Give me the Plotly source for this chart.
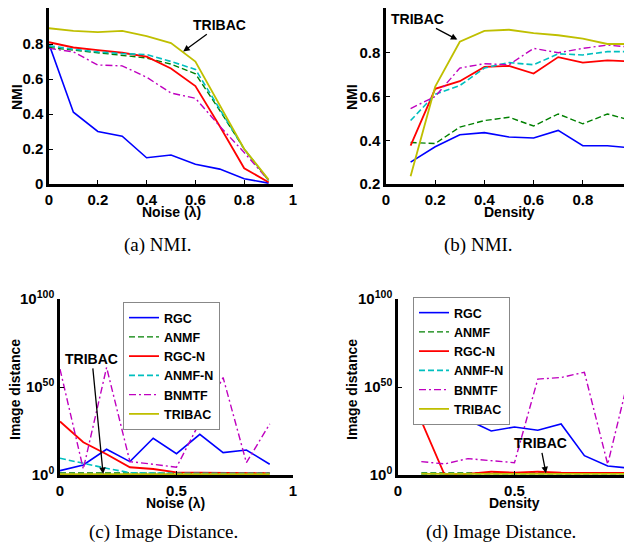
import plotly.graph_objects as go

# ---------------- data ----------------
noise = [0.0, 0.1, 0.2, 0.3, 0.4, 0.5, 0.6, 0.7, 0.8, 0.9]
density = [0.1, 0.2, 0.3, 0.4, 0.5, 0.6, 0.7, 0.8, 0.9, 1.0]
methods = ["RGC", "ANMF", "RGC-N", "ANMF-N", "BNMTF", "TRIBAC"]

# (a) NMI vs noise
a_rgc = [0.80, 0.41, 0.30, 0.273, 0.15, 0.166, 0.113, 0.085, 0.03, 0.005]
a_anmf = [0.78, 0.765, 0.748, 0.735, 0.72, 0.685, 0.63, 0.42, 0.20, 0.02]
a_rgcn = [0.81, 0.78, 0.765, 0.75, 0.728, 0.66, 0.56, 0.33, 0.09, 0.01]
a_anmfn = [0.79, 0.77, 0.755, 0.745, 0.74, 0.70, 0.655, 0.43, 0.20, 0.02]
a_bnmtf = [0.775, 0.755, 0.68, 0.675, 0.61, 0.52, 0.49, 0.33, 0.18, 0.02]
a_tribac = [0.89, 0.875, 0.868, 0.875, 0.845, 0.805, 0.70, 0.45, 0.20, 0.025]

# (b) NMI vs density
b_rgc = [0.30, 0.37, 0.425, 0.435, 0.415, 0.41, 0.445, 0.375, 0.375, 0.365]
b_anmf = [0.39, 0.385, 0.46, 0.49, 0.505, 0.465, 0.52, 0.475, 0.52, 0.49]
b_rgcn = [0.375, 0.635, 0.67, 0.735, 0.74, 0.705, 0.78, 0.755, 0.765, 0.76]
b_anmfn = [0.49, 0.61, 0.65, 0.73, 0.755, 0.745, 0.795, 0.79, 0.805, 0.805]
b_bnmtf = [0.545, 0.60, 0.73, 0.75, 0.745, 0.82, 0.80, 0.82, 0.835, 0.825]
b_tribac = [0.235, 0.645, 0.85, 0.90, 0.905, 0.89, 0.88, 0.865, 0.84, 0.84]

# (c) image distance vs noise, given as log10 of the distance
c_rgc = [2.5, 5.7, 14.6, 7.6, 20.9, 12.1, 23.1, 12.7, 14.2, 6.1]
c_anmf = [1.2, 1.1, 1.0, 1.0, 1.0, 1.0, 1.0, 1.0, 1.0, 1.0]
c_rgcn = [30.4, 18.6, 11.8, 4.4, 3.4, 1.5, 1.3, 1.1, 1.0, 1.0]
c_anmfn = [9.5, 6.6, 3.8, 1.3, 1.0, 0.9, 0.9, 0.9, 0.9, 0.9]
c_bnmtf = [60.2, 3.4, 61.1, 7.6, 6.1, 4.4, 30.0, 55.4, 7.0, 29.0]
c_tribac = [0.5, 0.5, 0.5, 0.5, 0.5, 0.5, 0.5, 0.5, 0.5, 0.5]

# (d) image distance vs density, given as log10 of the distance
d_rgc = [30.7, 31.3, 31.3, 25.0, 27.3, 25.4, 29.0, 11.0, 5.1, 3.8]
d_anmf = [1.2, 1.2, 1.2, 1.2, 1.2, 1.2, 1.2, 1.2, 1.2, 1.2]
d_rgcn = [30.7, 0.1, 0.6, 1.9, 1.3, 1.9, 1.3, 1.2, 1.2, 1.2]
d_anmfn = [0.1, 0.6, 0.6, 0.6, 0.6, 0.6, 0.6, 0.6, 0.6, 0.6]
d_bnmtf = [7.6, 6.3, 9.3, 8.0, 7.0, 54.5, 55.4, 58.4, 6.1, 60.7]
d_tribac = [0.6, 0.6, 0.6, 0.6, 0.6, 0.6, 0.6, 0.6, 0.6, 0.6]

nmi_ticks = [0, 0.2, 0.4, 0.6, 0.8, 1]
nmi_tick_labels = ["0", "0.2", "0.4", "0.6", "0.8", "1"]
nmi_b_ticks = [0.2, 0.4, 0.6, 0.8, 1]
nmi_b_tick_labels = ["0.2", "0.4", "0.6", "0.8", "1"]
dist_ticks = [1e0, 1e50, 1e100]
dist_tick_labels = ["10<sup>0</sup>", "10<sup>50</sup>", "10<sup>100</sup>"]
half_ticks = [0, 0.5, 1]
half_tick_labels = ["0", "0.5", "1"]

# ---------------- styles ----------------
colors = ["#0000ff", "#008000", "#ff0000", "#00bfbf", "#bf00bf", "#bfbf00"]
dashes = ["solid", "6px,3px", "solid", "6px,3px", "7px,3px,2px,3px", "solid"]
widths = [1.6, 1.4, 1.8, 1.6, 1.4, 1.8]

W, H = 632, 548
OFF = 8  # the page body adds an 8px margin; place everything relative to the window

def fx(x):
    return min(1.0, max(0.0, (x - OFF) / W))
def fy(y):
    return min(1.0, max(0.0, 1 - (y - OFF) / H))
def px(x0, x1):
    return [fx(x0), fx(x1)]
def py(top, bottom):
    return [fy(bottom), fy(top)]

fig = go.Figure()

panels = [
    ("x", "y", noise, [a_rgc, a_anmf, a_rgcn, a_anmfn, a_bnmtf, a_tribac], False, None),
    ("x2", "y2", density, [b_rgc, b_anmf, b_rgcn, b_anmfn, b_bnmtf, b_tribac], False, None),
    ("x3", "y3", noise, [c_rgc, c_anmf, c_rgcn, c_anmfn, c_bnmtf, c_tribac], True, "legend"),
    ("x4", "y4", density, [d_rgc, d_anmf, d_rgcn, d_anmfn, d_bnmtf, d_tribac], True, "legend2"),
]
for xa, ya, xs, series, is_log, leg in panels:
    for i, (name, vals) in enumerate(zip(methods, series)):
        yv = [10 ** v for v in vals] if is_log else vals
        fig.add_trace(go.Scatter(
            x=xs, y=yv, mode="lines", name=name, xaxis=xa, yaxis=ya,
            line=dict(color=colors[i], dash=dashes[i], width=widths[i]),
            showlegend=leg is not None, legend=leg if leg else "legend",
        ))

tickfont = dict(family="Liberation Sans", size=15, color="black", weight="bold")
common = dict(showgrid=False, zeroline=False, showline=True, linecolor="black",
              linewidth=2.5, ticks="inside", ticklen=4, tickcolor="black",
              tickfont=tickfont, mirror=False, automargin=False)

legfont = dict(family="Liberation Sans", size=12.5, color="black", weight="bold")
fig.update_layout(
    width=W, height=H, margin=dict(l=0, r=0, t=0, b=0, pad=0, autoexpand=False),
    paper_bgcolor="white", plot_bgcolor="white",
    # top panels start at the window's top edge (8px); range tops extended by ~1px worth
    xaxis=dict(domain=px(49, 293), range=[0, 1], tickvals=nmi_ticks, ticktext=nmi_tick_labels, anchor="y", **common),
    yaxis=dict(domain=py(8, 184), range=[0, 1.0057], tickvals=nmi_ticks, ticktext=nmi_tick_labels, anchor="x", **common),
    xaxis2=dict(domain=px(386, 632), range=[0, 1], tickvals=nmi_ticks, ticktext=nmi_tick_labels, anchor="y2", **common),
    yaxis2=dict(domain=py(8, 184), range=[0.2, 1.0045], tickvals=nmi_b_ticks, ticktext=nmi_b_tick_labels, anchor="x2", **common),
    xaxis3=dict(domain=px(60, 293), range=[0, 1], tickvals=half_ticks, ticktext=half_tick_labels, anchor="y3", **common),
    yaxis3=dict(domain=py(299, 475), type="log", range=[0, 100], tickvals=dist_ticks, ticktext=dist_tick_labels, anchor="x3", **common),
    xaxis4=dict(domain=px(398, 631), range=[0, 1], tickvals=half_ticks, ticktext=half_tick_labels, anchor="y4", **common),
    yaxis4=dict(domain=py(299, 475), type="log", range=[0, 100], tickvals=dist_ticks, ticktext=dist_tick_labels, anchor="x4", **common),
    legend=dict(x=fx(123), y=fy(302), xanchor="left", yanchor="top",
                bgcolor="white", bordercolor="#888888", borderwidth=1,
                font=legfont, itemwidth=30, tracegroupgap=0),
    legend2=dict(x=fx(413), y=fy(297), xanchor="left", yanchor="top",
                 bgcolor="white", bordercolor="#888888", borderwidth=1,
                 font=legfont, itemwidth=30, tracegroupgap=0),
)

labfont = dict(family="Liberation Sans", size=14, color="black", weight="bold")
capfont = dict(family="Liberation Serif", size=19, color="black")
annots = [
    # axis titles
    dict(text="Noise (λ)", x=171, y=212, font=labfont),
    dict(text="Density", x=509, y=212, font=labfont),
    dict(text="Noise (λ)", x=176, y=503, font=labfont),
    dict(text="Density", x=515, y=503, font=labfont),
    dict(text="NMI", x=17, y=97, font=labfont, textangle=-90),
    dict(text="NMI", x=352, y=97, font=labfont, textangle=-90),
    dict(text="Image distance", x=15, y=390, font=labfont, textangle=-90),
    dict(text="Image distance", x=352, y=390, font=labfont, textangle=-90),
    # captions
    dict(text="(a) NMI.", x=158, y=245, font=capfont),
    dict(text="(b) NMI.", x=478, y=245, font=capfont),
    dict(text="(c) Image Distance.", x=163, y=532, font=capfont),
    dict(text="(d) Image Distance.", x=501, y=532, font=capfont),
]
for a in annots:
    a = dict(a)
    a["x"] = fx(a["x"])
    a["y"] = fy(a["y"])
    fig.add_annotation(xref="paper", yref="paper", showarrow=False,
                       xanchor="center", yanchor="middle", **a)

arrowfont = dict(family="Liberation Sans", size=14, color="black", weight="bold")
fig.add_annotation(xref="x", yref="y", x=0.55, y=0.757, ax=0.70, ay=0.91,
                   axref="x", ayref="y", text="TRIBAC", font=arrowfont,
                   showarrow=True, arrowhead=2, arrowsize=1, arrowwidth=1.3, arrowcolor="black")
fig.add_annotation(xref="x2", yref="y2", x=0.29, y=0.86, ax=0.13, ay=0.955,
                   axref="x2", ayref="y2", text="TRIBAC", font=arrowfont,
                   showarrow=True, arrowhead=2, arrowsize=1, arrowwidth=1.3, arrowcolor="black")
fig.add_annotation(xref="x3", yref="y3", x=0.185, y=0.6, ax=0.137, ay=66,
                   axref="x3", ayref="y3", text="TRIBAC", font=arrowfont,
                   showarrow=True, arrowhead=2, arrowsize=1, arrowwidth=1.3, arrowcolor="black")
fig.add_annotation(xref="x4", yref="y4", x=0.635, y=1.0, ax=0.61, ay=18,
                   axref="x4", ayref="y4", text="TRIBAC", font=arrowfont,
                   showarrow=True, arrowhead=2, arrowsize=1, arrowwidth=1.3, arrowcolor="black")

fig.write_html("out.html")
